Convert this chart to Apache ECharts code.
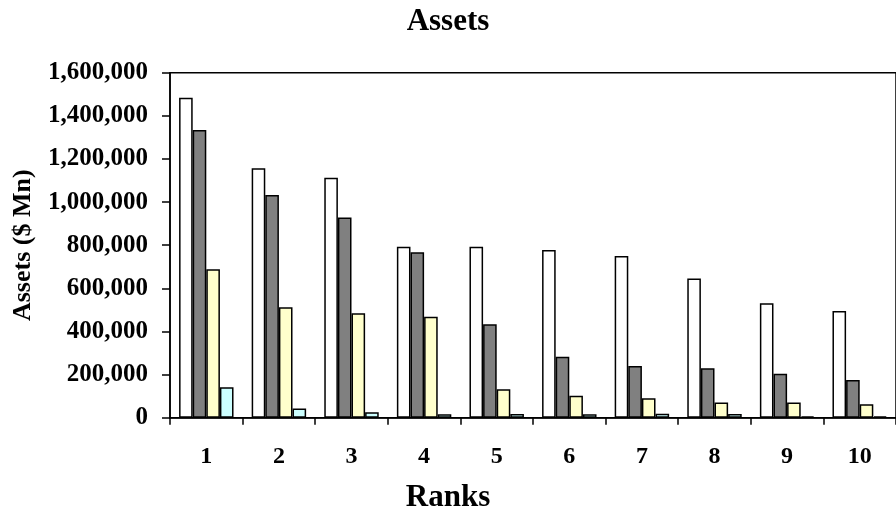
<!DOCTYPE html>
<html>
<head>
<meta charset="utf-8">
<script src="https://cdn.jsdelivr.net/npm/echarts@6/dist/echarts.min.js"></script>
<style>html,body{margin:0;padding:0;background:#fff}#c{width:896px;height:508px}</style>
</head>
<body>
<div id="c"></div>
<script>
var categories = ['1','2','3','4','5','6','7','8','9','10'];
var seriesNames = ['Series 1','Series 2','Series 3','Series 4'];
var series1 = [1484000, 1157000, 1113000, 793000, 793000, 778000, 750000, 645000, 531000, 495000];
var series2 = [1334000, 1033000, 928000, 767000, 433000, 283000, 240000, 229000, 204000, 175000];
var series3 = [688000, 512000, 484000, 468000, 132000, 102000, 90000, 71000, 71000, 62000];
var series4 = [141000, 43000, 25000, 16000, 17000, 16000, 18000, 17000, 6000, 6000];
var colors = ['#FFFFFF', '#808080', '#FFFFCC', '#CCFFFF'];
var font = "'Liberation Serif', 'Times New Roman', serif";

var chart = echarts.init(document.getElementById('c'), null, {renderer: 'canvas'});
function bar(name, data, color) {
  return {
    name: name, type: 'bar', data: data,
    barGap: '0%', barCategoryGap: '25%',
    itemStyle: {color: color, borderColor: '#000', borderWidth: 1.5},
    emphasis: {disabled: true}
  };
}
chart.setOption({
  animation: false,
  title: [
    {text: 'Assets', left: 'center', top: 1,
     textStyle: {fontFamily: font, fontWeight: 'bold', fontSize: 31, color: '#000'}},
    {text: 'Ranks', left: 'center', top: 477,
     textStyle: {fontFamily: font, fontWeight: 'bold', fontSize: 31, color: '#000'}}
  ],
  grid: {left: 170, top: 72.7, width: 732, height: 345, show: true,
         borderColor: '#000', borderWidth: 1.5, backgroundColor: 'transparent'},
  xAxis: {
    type: 'category', data: categories,
    axisLine: {lineStyle: {color: '#000', width: 1.5}},
    axisTick: {show: true, length: 7, inside: false, lineStyle: {color: '#000', width: 1.5}},
    axisLabel: {fontFamily: font, fontWeight: 'bold', fontSize: 24, color: '#000', margin: 27},
    splitLine: {show: false}
  },
  yAxis: {
    type: 'value', min: 0, max: 1600000, interval: 200000,
    name: 'Assets ($ Mn)', nameLocation: 'middle', nameGap: 134,
    nameTextStyle: {fontFamily: font, fontWeight: 'bold', fontSize: 26, color: '#000'},
    axisLine: {show: true, lineStyle: {color: '#000', width: 1.5}},
    axisTick: {show: true, length: 8, lineStyle: {color: '#000', width: 1.5}},
    axisLabel: {fontFamily: font, fontWeight: 'bold', fontSize: 25, color: '#000', margin: 22,
      formatter: function (v) { return v.toString().replace(/\B(?=(\d{3})+(?!\d))/g, ','); }},
    splitLine: {show: false}
  },
  series: [
    bar(seriesNames[0], series1, colors[0]),
    bar(seriesNames[1], series2, colors[1]),
    bar(seriesNames[2], series3, colors[2]),
    bar(seriesNames[3], series4, colors[3])
  ]
});
</script>
</body>
</html>
